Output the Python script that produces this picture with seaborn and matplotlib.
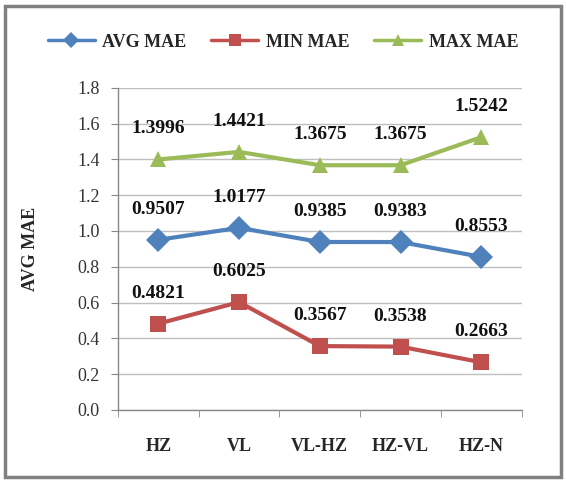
from matplotlib import pyplot as plt
from matplotlib.patches import Rectangle
from matplotlib.ticker import FixedLocator, FormatStrFormatter
import seaborn as sns
import pandas as pd

categories = ['HZ', 'VL', 'VL-HZ', 'HZ-VL', 'HZ-N']
avg_mae = [0.9507, 1.0177, 0.9385, 0.9383, 0.8553]
min_mae = [0.4821, 0.6025, 0.3567, 0.3538, 0.2663]
max_mae = [1.3996, 1.4421, 1.3675, 1.3675, 1.5242]
series_names = ['AVG MAE', 'MIN MAE', 'MAX MAE']
palette = {'AVG MAE': '#4F81BD', 'MIN MAE': '#C0504D', 'MAX MAE': '#9BBB59'}
markers = {'AVG MAE': 'D', 'MIN MAE': 's', 'MAX MAE': '^'}

df = pd.concat([
    pd.DataFrame({'cat': categories, 'value': vals, 'series': name})
    for name, vals in zip(series_names, [avg_mae, min_mae, max_mae])
])

sns.set_style('white')
plt.rcParams['font.family'] = ['Liberation Serif', 'DejaVu Serif']

fig = plt.figure(figsize=(5.66, 4.8), dpi=100)
ax = fig.add_axes([0.2085, 0.146, 0.713, 0.671])

sns.lineplot(data=df, x='cat', y='value', hue='series', style='series',
             palette=palette, markers=markers, dashes=False, linewidth=3,
             markersize=12, markeredgewidth=0, sort=False, ax=ax)

for name, vals in zip(series_names, [avg_mae, min_mae, max_mae]):
    for i, v in enumerate(vals):
        ax.annotate(f'{v:.4f}', (i, v), xytext=(0, 22), textcoords='offset points',
                    ha='center', va='center', fontsize=14, fontweight='bold', color='#111111')

ax.set_xlim(-0.5, 4.5)
ax.set_ylim(0, 1.8)
ax.yaxis.set_major_locator(FixedLocator([i * 0.2 for i in range(10)]))
ax.yaxis.set_major_formatter(FormatStrFormatter('%.1f'))
ax.grid(axis='y', color='#BFBFBF', linewidth=1)
ax.grid(axis='x', visible=False)
ax.xaxis.set_minor_locator(FixedLocator([i - 0.5 for i in range(6)]))
ax.tick_params(axis='x', which='major', length=0, pad=20, labelsize=13)
ax.tick_params(axis='x', which='minor', length=5, color='#888888', direction='out', bottom=True)
ax.tick_params(axis='y', length=5, color='#888888', direction='out', left=True, pad=8,
               labelsize=13, labelcolor='#333333')
for lbl in ax.get_xticklabels():
    lbl.set_fontweight('bold')
for side in ['top', 'right']:
    ax.spines[side].set_visible(False)
for side in ['left', 'bottom']:
    ax.spines[side].set_color('#888888')
    ax.spines[side].set_linewidth(1)

ax.set_xlabel('')
ax.set_ylabel('AVG MAE', fontsize=13, fontweight='bold', labelpad=28)

handles, labels = ax.get_legend_handles_labels()
ax.get_legend().remove()
leg = fig.legend(handles, labels, loc='center', bbox_to_anchor=(0.5, 0.912), ncol=3,
                 frameon=False, handlelength=2.6, columnspacing=1.4, handletextpad=0.4,
                 prop={'size': 13, 'weight': 'bold'})
for h in leg.legend_handles:
    h.set_markersize(8)
    h.set_linewidth(2.5)

fig.patches.append(Rectangle((0.009, 0.006), 0.982, 0.982, transform=fig.transFigure,
                             fill=False, edgecolor='#808080', linewidth=2.5))

plt.savefig('out.png', dpi=100)
